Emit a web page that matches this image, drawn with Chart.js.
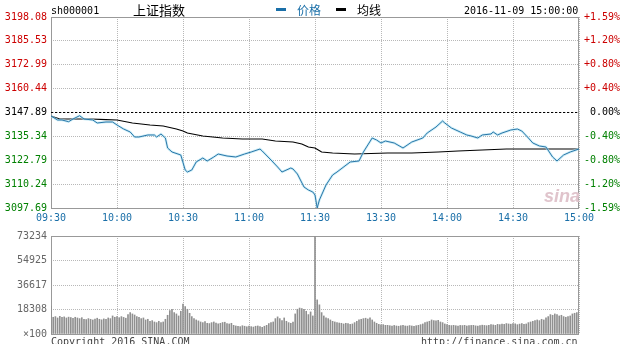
<!DOCTYPE html>
<html><head><meta charset="utf-8">
<script src="https://cdn.jsdelivr.net/npm/chart.js@4"></script>
<style>
html,body{margin:0;padding:0;background:#fff;}
#wrap{position:relative;width:623px;height:344px;overflow:hidden;font-family:"DejaVu Sans Mono",monospace;}
.t{position:absolute;white-space:nowrap;line-height:12px;font-size:10px;color:#000;}
.cjk{font-family:"Noto Sans CJK SC",sans-serif;}
canvas{position:absolute;left:0;}
</style></head><body>
<div id="wrap">
<canvas id="pc" width="620" height="230" style="top:0"></canvas>
<canvas id="vc" width="620" height="124" style="top:220px"></canvas>
<div class="t" style="left:51px;top:5px;">sh000001</div>
<div class="t cjk" style="left:133px;top:2px;font-size:13px;line-height:16px;">上证指数</div>
<div style="position:absolute;left:276px;top:8px;width:10px;height:3px;background:#1a6fa8"></div>
<div class="t cjk" style="left:297px;top:2px;font-size:12px;line-height:16px;color:#1a6fa8">价格</div>
<div style="position:absolute;left:336px;top:8px;width:10px;height:3px;background:#000"></div>
<div class="t cjk" style="left:357px;top:2px;font-size:12px;line-height:16px;">均线</div>
<div class="t" style="left:464px;top:5px;">2016-11-09 15:00:00</div>
<div class="t" style="left:544px;top:186px;font-family:'Liberation Sans',sans-serif;font-style:italic;font-weight:bold;font-size:18px;line-height:20px;color:#e0c4cc">sina</div>
<div class="t" style="left:51px;top:336px;color:#444">Copyright 2016 SINA.COM</div>
<div class="t" style="left:421px;top:336px;color:#444">http://finance.sina.com.cn</div>
</div>
<script>
// ---- data ----
const prevClose = 3147.89;
const timeLabels = ["09:30","10:00","10:30","11:00","11:30","13:30","14:00","14:30","15:00"];
const timeTickMinutes = [0,30,60,90,120,150,180,210,240];
const priceTickValues = [3198.08,3185.53,3172.99,3160.44,3147.89,3135.34,3122.79,3110.24,3097.69];
const priceTickLabels = ["3198.08","3185.53","3172.99","3160.44","3147.89","3135.34","3122.79","3110.24","3097.69"];
const pctTickLabels = ["+1.59%","+1.20%","+0.80%","+0.40%","0.00%","-0.40%","-0.80%","-1.20%","-1.59%"];
const volTickValues = [0,18308.5,36617,54925.5,73234];
const volTickLabels = ["\u00d7100","18308","36617","54925","73234"];

const priceMinute = [0,3,5,8,10,13,15,19,21,25,28,30,33,36,38,40,44,47,48,50,52,53,55,59,61,62,64,66,69,71,74,76,80,84,88,91,95,96,100,103,105,109,110,112,115,117,119,120,
121,122,125,128,130,136,140,142,146,148,150,152,156,160,164,169,171,175,178,179,182,186,189,191,194,196,200,201,203,205,209,212,214,217,219,222,225,228,230,233,236,240];
const priceValue = [3146.05,3143.94,3143.94,3143.05,3144.47,3146.20,3144.47,3143.94,3142.37,3142.89,3142.89,3141.32,3139.22,3137.64,3135.01,3135.01,3136.06,3136.06,3135.01,3136.59,3134.49,3129.23,3127.13,3125.55,3117.66,3116.61,3117.66,3121.87,3123.97,3122.40,3124.50,3126.07,3125.02,3124.50,3126.07,3127.12,3128.70,3127.65,3122.92,3119.24,3116.61,3118.71,3118.19,3115.56,3108.73,3107.15,3106.10,3104.52,
3097.69,3101.90,3109.78,3115.03,3116.61,3121.87,3122.40,3127.12,3134.48,3133.43,3131.86,3132.91,3131.86,3129.23,3132.38,3134.48,3137.11,3140.26,3143.42,3142.37,3139.74,3137.64,3136.06,3135.54,3134.48,3136.06,3136.59,3137.64,3136.06,3137.11,3138.69,3139.21,3138.16,3134.48,3131.86,3130.28,3129.75,3124.50,3122.40,3125.55,3127.12,3128.70];

const avgMinute = [0,4,18,25,30,37,45,51,57,60,62,69,78,87,96,102,110,114,117,120,123,128,138,153,164,176,185,207,240];
const avgValue = [3146.05,3144.47,3144.47,3144.10,3143.94,3142.37,3141.32,3140.80,3139.22,3138.17,3137.11,3135.54,3134.48,3133.96,3133.96,3132.91,3132.38,3131.33,3129.75,3129.23,3127.12,3126.60,3126.07,3126.60,3126.60,3127.12,3127.65,3128.70,3128.70];

const volume = [20900,
12500,13000,12000,13200,12400,12800,12000,12600,12300,11800,12500,12000,11500,12200,
11000,10800,11500,11000,10500,11200,11800,11000,10600,11300,11000,12000,11500,
13500,12500,13000,12200,13000,12400,11800,14500,16000,15000,14200,
13000,12500,11500,12000,10500,11000,9500,10000,9000,8500,9500,8500,9000,
11000,14000,17500,18500,16000,15000,13500,17000,22300,20500,18500,15500,13000,11500,10500,9800,
9000,8500,9200,8000,7800,8500,9000,8200,7600,8000,8600,8800,7800,7500,8000,
6500,6000,5800,5500,6200,5800,5400,6000,5500,5200,5800,6000,5500,5000,5800,6500,
7800,8500,9000,11500,12800,
11500,10000,12000,9500,8500,8000,9000,
15000,18500,19400,
19000,18500,17000,14500,16500,13500,
73000,
25500,21800,16000,13500,12000,11500,10500,
9500,9000,8500,8200,8000,7500,8000,7800,7200,7500,
8500,9500,10500,11000,11500,11800,11200,12000,10500,
9000,8000,7200,6800,7000,6500,
6500,6200,6000,6400,6000,5800,6200,6500,6000,5900,6300,6000,5800,6200,6500,7000,7500,8500,
9000,9500,10500,10000,9800,10200,9000,8500,7500,
7000,6500,6300,6500,6200,6000,6400,6300,6500,6000,6200,6400,6500,6100,5900,6300,6600,6400,6200,6500,7000,6800,6500,7200,7000,
7500,7200,7800,7500,7300,7800,7600,7000,7400,7800,7200,7500,
8500,9000,9500,10000,10500,10000,11000,10500,12000,
13000,14500,14000,15000,14500,13500,14000,13000,
12500,13000,13500,15000,15500,16000,17000];

// ---- chart ----
Chart.defaults.font.family = "'DejaVu Sans Mono', monospace";
Chart.defaults.font.size = 10;

const frame = {id:'frame', beforeDatasetsDraw(c){const a=c.chartArea,ctx=c.ctx;ctx.save();ctx.strokeStyle='#999';ctx.lineWidth=1;ctx.setLineDash([]);ctx.strokeRect(Math.round(a.left)+0.5,Math.round(a.top)+0.5,Math.round(a.right-a.left)-1,Math.round(a.bottom-a.top));ctx.restore();}};

const gridOpts = {color:'#b8b8b8', drawTicks:false, lineWidth:1};
const borderOpts = {display:false, dash:[1,1]};

const pricePts = priceMinute.map((m,i)=>({x:m,y:priceValue[i]}));
const avgPts = avgMinute.map((m,i)=>({x:m,y:avgValue[i]}));
const prevPts = [{x:0,y:prevClose},{x:240,y:prevClose}];

function tickColor(i){ return i<4 ? '#cc0000' : (i===4 ? '#000' : '#008000'); }

new Chart(document.getElementById('pc'), {
  type:'line',
  data:{datasets:[
    {data:pricePts, borderColor:'#2a76a8', borderWidth:1, pointRadius:0, tension:0, order:0},
    {data:pricePts, borderColor:'rgba(170,225,242,0.6)', borderWidth:2.5, pointRadius:0, tension:0, order:1},
    {data:avgPts, borderColor:'#000', borderWidth:1.2, pointRadius:0, tension:0, order:2},
    {data:prevPts, borderColor:'#000', borderWidth:1, borderDash:[2,2], pointRadius:0, order:3}
  ]},
  options:{
    animation:false, responsive:false, events:[],
    plugins:{legend:{display:false}, tooltip:{enabled:false}},
    layout:{padding:{top:17,left:0,right:0,bottom:0}},
    scales:{
      x:{type:'linear', min:0, max:240,
         afterFit:s=>{s.height=22;},
         afterBuildTicks:s=>{s.ticks=timeTickMinutes.map(v=>({value:v}));},
         ticks:{autoSkip:false, maxRotation:0, padding:4, color:'#1a6fa8', callback:(v,i)=>timeLabels[i]},
         grid:gridOpts, border:borderOpts},
      y:{position:'left', min:3097.69, max:3198.08,
         afterFit:s=>{s.width=51;},
         afterBuildTicks:s=>{s.ticks=priceTickValues.map(v=>({value:v}));},
         ticks:{padding:4, callback:(v,i)=>priceTickLabels[i], color:ctx=>tickColor(ctx.index)},
         grid:gridOpts, border:borderOpts},
      y2:{position:'right', min:3097.69, max:3198.08,
         afterFit:s=>{s.width=41;},
         afterBuildTicks:s=>{s.ticks=priceTickValues.map(v=>({value:v}));},
         ticks:{padding:4, crossAlign:'far', callback:(v,i)=>pctTickLabels[i], color:ctx=>tickColor(ctx.index)},
         grid:{display:false}, border:{display:false}}
    }
  },
  plugins:[frame]
});

new Chart(document.getElementById('vc'), {
  type:'bar',
  data:{datasets:[{data:volume.map((v,i)=>({x:i,y:v})), backgroundColor:'#909090', barThickness:1, borderWidth:0}]},
  options:{
    animation:false, responsive:false, events:[],
    plugins:{legend:{display:false}, tooltip:{enabled:false}},
    layout:{padding:{top:16,left:0,right:0,bottom:0}},
    scales:{
      x:{type:'linear', min:0, max:240, offset:false,
         afterFit:s=>{s.height=7;},
         afterBuildTicks:s=>{s.ticks=timeTickMinutes.map(v=>({value:v}));},
         ticks:{display:false},
         grid:Object.assign({offset:false},gridOpts), border:borderOpts},
      y:{position:'left', min:0, max:73234,
         afterFit:s=>{s.width=51;},
         afterBuildTicks:s=>{s.ticks=volTickValues.map(v=>({value:v}));},
         ticks:{padding:4, color:'#666', callback:(v,i)=>volTickLabels[i]},
         grid:gridOpts, border:borderOpts},
      y2:{position:'right', min:0, max:73234,
         afterFit:s=>{s.width=41;},
         ticks:{display:false}, grid:{display:false}, border:{display:false}}
    }
  },
  plugins:[frame]
});
</script>
</body></html>
